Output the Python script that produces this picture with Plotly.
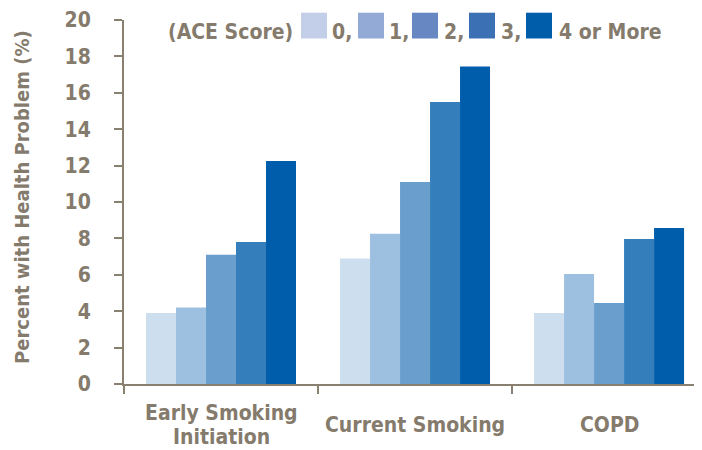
import plotly.graph_objects as go

categories = ["Early Smoking<br>Initiation", "Current Smoking", "COPD"]
ace_scores = ["0,", "1,", "2,", "3,", "4 or More"]
values_ace0 = [3.9, 6.9, 3.9]
values_ace1 = [4.2, 8.25, 6.05]
values_ace2 = [7.1, 11.1, 4.45]
values_ace3 = [7.8, 15.5, 7.97]
values_ace4 = [12.25, 17.45, 8.57]
series = [values_ace0, values_ace1, values_ace2, values_ace3, values_ace4]
y_ticks = [0, 2, 4, 6, 8, 10, 12, 14, 16, 18, 20]
legend_title = "(ACE Score)"
y_title = "Percent with Health Problem (%)"

bar_colors = ["#cddeee", "#9dbfe0", "#6a9ecc", "#347ebb", "#005dab"]
legend_colors = ["#c3cee9", "#94aad6", "#6787c2", "#3b70b4", "#005daa"]
text_color = "#857b6d"
axis_color = "#8a8070"
FONT = "DejaVu Sans Condensed, Liberation Sans Narrow, Arial Narrow, sans-serif"
FS = 21

# page offset (body margin) so the figure lands like the reference
OFF = 8
W, H = 702 - OFF, 450 - OFF
L, R, T = 124 - OFF, 0, 20 - OFF
B = H - (384 - OFF)
PW, PH = W - L - R, H - T - B


def px_x(x):
    return (x - OFF - L) / PW


def px_y(y):
    return (H - B - (y - OFF)) / PH


def font(size=FS):
    return dict(family=FONT, size=size, color=text_color, weight="bold")


fig = go.Figure()
for name, vals, col in zip(ace_scores, series, bar_colors):
    fig.add_trace(go.Bar(x=categories, y=vals, name=name, marker_color=col,
                         marker_line_width=0, showlegend=False))

annotations = []
shapes = []

# category labels
for cat in categories:
    lines = cat.split("<br>")
    n = len(lines)
    for i, line in enumerate(lines):
        annotations.append(dict(
            x=cat, xref="x", y=0, yref="paper", yanchor="middle", xanchor="center",
            yshift=-41 - (i - (n - 1) / 2) * 24, text=line, showarrow=False,
            font=font()))

# y axis title
annotations.append(dict(
    x=px_x(22), xref="paper", y=px_y(197), yref="paper", text=y_title,
    textangle=-90, showarrow=False, xanchor="center", yanchor="middle",
    font=font(20)))

# custom legend
box_left = [301, 358, 412, 469, 526]
label_left = [332, 389, 444, 501, 559]
annotations.append(dict(
    x=px_x(295), xref="paper", y=px_y(32), yref="paper", text=legend_title,
    showarrow=False, xanchor="right", yanchor="middle",
    font=font()))
for name, col, bx, lx in zip(ace_scores, legend_colors, box_left, label_left):
    shapes.append(dict(type="rect", xref="paper", yref="paper",
                       x0=px_x(bx), x1=px_x(bx + 26), y0=px_y(38.5), y1=px_y(12.7),
                       fillcolor=col, line_width=0))
    annotations.append(dict(
        x=px_x(lx - 2), xref="paper", y=px_y(32), yref="paper", text=name,
        showarrow=False, xanchor="left", yanchor="middle",
        font=font()))

fig.update_layout(
    width=W, height=H,
    margin=dict(l=L, r=R, t=T, b=B, autoexpand=False),
    plot_bgcolor="white", paper_bgcolor="white",
    barmode="group", bargap=0.227, bargroupgap=0,
    annotations=annotations, shapes=shapes,
    showlegend=False,
)
fig.update_xaxes(
    range=[-0.5, 2.479], showline=True, linecolor=axis_color, linewidth=2,
    ticks="outside", tickson="boundaries", ticklen=8, tickwidth=2, tickcolor=axis_color,
    showticklabels=False, showgrid=False, zeroline=False, fixedrange=True,
)
fig.update_yaxes(
    range=[0, 20], tickvals=y_ticks, showline=True, linecolor=axis_color, linewidth=2,
    ticks="outside", ticklen=8, tickwidth=2, tickcolor=axis_color,
    tickfont=font(), ticklabelstandoff=19,
    showgrid=False, zeroline=False, fixedrange=True,
)

fig.write_html("out.html")
